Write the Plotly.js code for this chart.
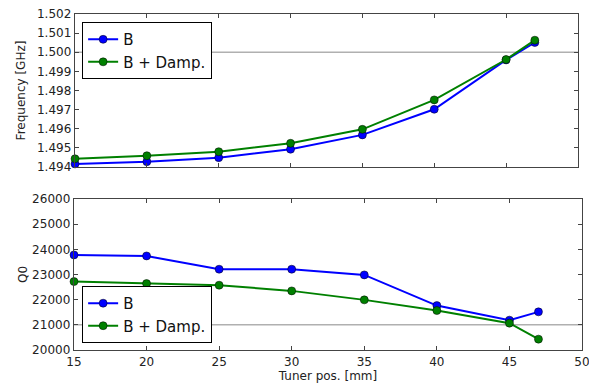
<!DOCTYPE html>
<html>
<head>
<meta charset="utf-8">
<script src="https://cdn.plot.ly/plotly-3.0.1.min.js"></script>
<style>html,body{margin:0;padding:0;background:#fff;}#chart{width:589px;height:388px;}</style>
</head>
<body>
<div id="chart"></div>
<script>
// Data
const tunerPos = [15, 20, 25, 30, 35, 40, 45, 47];
const freqB = [1.49416, 1.49428, 1.49449, 1.49493, 1.49568, 1.49702, 1.49960, 1.50051];
const freqBDamp = [1.49443, 1.49459, 1.49480, 1.49524, 1.49597, 1.49751, 1.49962, 1.50063];
const q0B = [23778, 23738, 23210, 23210, 22984, 21766, 21187, 21516];
const q0BDamp = [22720, 22640, 22575, 22349, 21992, 21567, 21067, 20432];
const seriesNames = ['B', 'B + Damp.'];
const freqRefLine = 1.500;
const q0RefLine = 21000;
const xTicks = [15, 20, 25, 30, 35, 40, 45, 50];
const freqTicks = [1.494, 1.495, 1.496, 1.497, 1.498, 1.499, 1.500, 1.501, 1.502];
const q0Ticks = [20000, 21000, 22000, 23000, 24000, 25000, 26000];

const blue = '#0000ff';
const green = '#008000';
const font = 'DejaVu Sans, sans-serif';
const frame = '#444';

function tr(x, y, name, color, xa, ya, lg) {
  return {
    x: x, y: y, name: name, type: 'scatter', mode: 'lines+markers',
    xaxis: xa, yaxis: ya, legend: lg, cliponaxis: false,
    line: {color: color, width: 2},
    marker: {color: color, size: 8, line: {color: '#000', width: 0.5}}
  };
}

const data = [
  tr(tunerPos, freqB, seriesNames[0], blue, 'x2', 'y2', 'legend'),
  tr(tunerPos, freqBDamp, seriesNames[1], green, 'x2', 'y2', 'legend'),
  tr(tunerPos, q0B, seriesNames[0], blue, 'x', 'y', 'legend2'),
  tr(tunerPos, q0BDamp, seriesNames[1], green, 'x', 'y', 'legend2')
];

const axCommon = {
  showgrid: false, zeroline: false, showline: true, linecolor: frame, linewidth: 1.3,
  mirror: 'ticks', ticks: 'inside', ticklen: 4, tickcolor: frame,
  tickfont: {family: font, size: 12, color: '#222'}, ticklabeloverflow: 'allow'
};

const legendCommon = {
  bgcolor: '#fff', bordercolor: '#000', borderwidth: 1,
  font: {family: font, size: 15, color: '#111'},
  xanchor: 'left', x: 0.016, tracegroupgap: 0, itemwidth: 30
};

const layout = {
  width: 589, height: 388,
  margin: {l: 74, r: 7, t: 14, b: 38},
  paper_bgcolor: '#fff', plot_bgcolor: '#fff',
  font: {family: font, color: '#222'},
  showlegend: true,
  xaxis: Object.assign({}, axCommon, {
    domain: [0, 1], anchor: 'y', range: [15, 50], tickvals: xTicks,
    title: {text: 'Tuner pos. [mm]', font: {family: font, size: 12, color: '#222'}, standoff: 4}
  }),
  yaxis: Object.assign({}, axCommon, {
    domain: [0, 0.4494], anchor: 'x', range: [20000, 26000], tickvals: q0Ticks, tickformat: 'd',
    automargin: true,
    title: {text: 'Q0', font: {family: font, size: 12, color: '#222'}, standoff: 2}
  }),
  xaxis2: Object.assign({}, axCommon, {
    domain: [0.002, 0.992], anchor: 'y2', range: [15, 50], tickvals: xTicks, showticklabels: false
  }),
  yaxis2: Object.assign({}, axCommon, {
    domain: [0.5446, 1], anchor: 'x2', range: [1.494, 1.502], tickvals: freqTicks, tickformat: '.3f',
    automargin: true,
    title: {text: 'Frequency [GHz]', font: {family: font, size: 12, color: '#222'}, standoff: 8}
  }),
  legend: Object.assign({}, legendCommon, {yanchor: 'top', y: 0.976}),
  legend2: Object.assign({}, legendCommon, {yanchor: 'bottom', y: 0.021}),
  shapes: [
    {type: 'line', xref: 'x2 domain', yref: 'y2', x0: 0, x1: 1, y0: freqRefLine, y1: freqRefLine,
     line: {color: '#b0b0b0', width: 1.5}, layer: 'below'},
    {type: 'line', xref: 'x domain', yref: 'y', x0: 0, x1: 1, y0: q0RefLine, y1: q0RefLine,
     line: {color: '#b0b0b0', width: 1.5}, layer: 'below'}
  ]
};

Plotly.newPlot('chart', data, layout, {displayModeBar: false, staticPlot: true});
</script>
</body>
</html>
